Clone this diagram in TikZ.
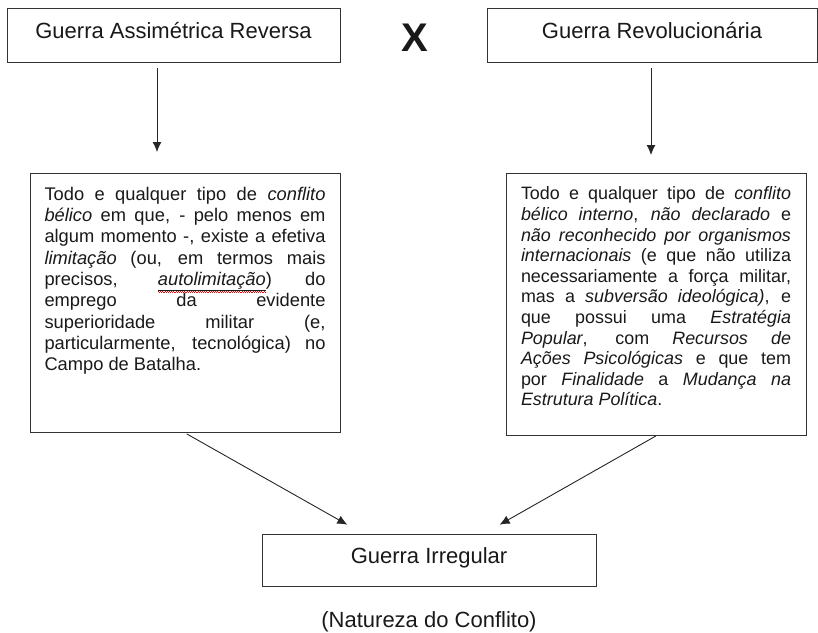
\documentclass[tikz,border=0pt]{standalone}
\usepackage{fontspec}
\setmainfont{Liberation Sans}
\usepackage{tikz}
\usetikzlibrary{arrows.meta}

% spell-check wave under a word
\newcommand{\spellmark}[1]{\setbox0\hbox{#1}%
    \rlap{\hbox to\wd0{\color{red}\leaders\hbox{\raisebox{-6.5pt}{\rule{1.1pt}{0.7pt}}\raisebox{-7.5pt}{\rule{1.1pt}{0.7pt}}}\hfill}}%
    \underline{\box0}}

\hyphenpenalty=10000
\exhyphenpenalty=10000
\tolerance=10000
\hbadness=10000

\begin{document}
\begin{tikzpicture}[
        x=1pt, y=-1pt,
        every node/.style={text=black!90},
        titlebox/.style={rectangle, draw=black!80, line width=0.9pt, inner sep=0pt,
            font=\fontsize{22}{26}\selectfont, text height=15pt, text depth=8pt},
        defbox/.style={rectangle, draw=black!80, line width=0.9pt, inner ysep=13.5pt, anchor=north},
        link/.style={draw=black!85, line width=0.9pt, -{Latex[length=10pt, width=9pt]}}
        ]
        \useasboundingbox (0,0) rectangle (818,632);

        % Top boxes
        \node[titlebox, minimum width=333pt, minimum height=54pt] (assim) at (173.5,35) {Guerra Assimétrica Reversa};
        \node[titlebox, minimum width=330pt, minimum height=54pt] (revol) at (652,35) {Guerra Revolucionária};
        \node[font=\fontsize{40}{40}\selectfont\bfseries] (versus) at (415,37.5) {X};

        % Left definition
        \node[defbox, inner xsep=14.5pt, font=\fontsize{18.3}{21.3}\selectfont] (defA) at (185,173) {%
            \parbox[t][232pt][t]{281pt}{%
            Todo e qualquer tipo de \textit{conflito}\linebreak
            \textit{bélico} em que, - pelo menos em\linebreak
            algum momento -, existe a efetiva\linebreak
            \textit{limitação} (ou, em termos mais\linebreak
            precisos, \spellmark{\textit{autolimitação}}) do\linebreak
            emprego da evidente\linebreak
            superioridade militar (e,\linebreak
            particularmente, tecnológica) no\linebreak
            Campo de Batalha.}};

        % Right definition
        \node[defbox, inner xsep=15pt, font=\fontsize{17.9}{20.6}\selectfont] (defB) at (656,173) {%
            \parbox[t][235pt][t]{270pt}{%
            Todo e qualquer tipo de \textit{conflito}\linebreak
            \textit{bélico interno}, \textit{não declarado} e\linebreak
            \textit{não reconhecido por organismos}\linebreak
            \textit{internacionais} (e que não utiliza\linebreak
            necessariamente a força militar,\linebreak
            mas a \textit{subversão ideológica)}, e\linebreak
            que possui uma \textit{Estratégia}\linebreak
            \textit{Popular}, com \textit{Recursos de}\linebreak
            \textit{Ações Psicológicas} e que tem\linebreak
            por \textit{Finalidade} a \textit{Mudança na}\linebreak
            \textit{Estrutura Política}.}};

        % Result
        \node[titlebox, minimum width=334pt, minimum height=52pt] (irreg) at (429,560) {Guerra Irregular};
        \node[font=\fontsize{22}{26}\selectfont, anchor=base] (nature) at (429,627) {(Natureza do Conflito)};

        % Connectors
        \draw[link, shorten <=6pt, shorten >=21pt] ([xshift=-16.5pt]assim.south) -- ([xshift=-28pt]defA.north);
        \draw[link, shorten <=6pt, shorten >=18pt] ([xshift=-1pt]revol.south) -- ([xshift=-5pt]defB.north);
        \draw[link, shorten <=2pt, shorten >=18pt] (defA.south) -- ([xshift=-66pt]irreg.north);
        \draw[link, shorten >=18pt] (defB.south) -- ([xshift=55pt]irreg.north);
    \end{tikzpicture}
\end{document}
